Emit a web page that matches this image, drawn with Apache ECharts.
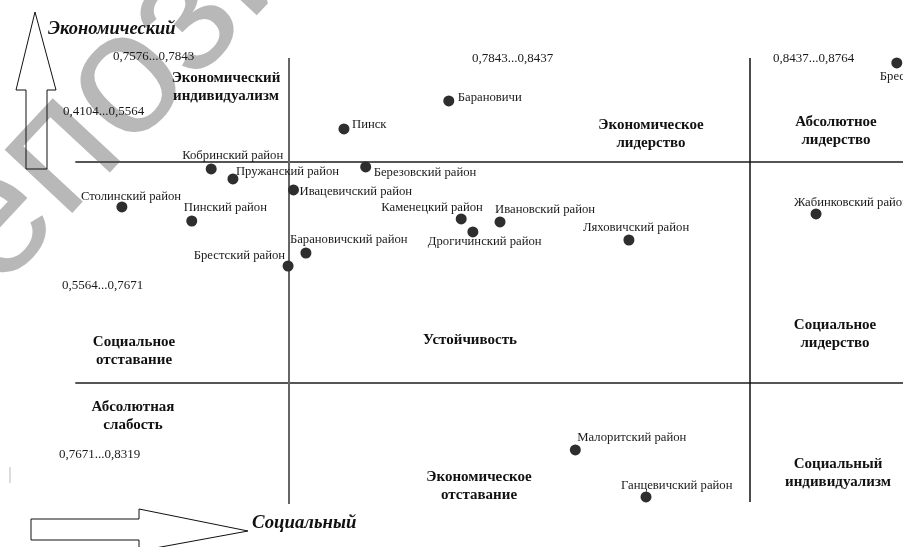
<!DOCTYPE html>
<html><head><meta charset="utf-8">
<script src="https://cdn.jsdelivr.net/npm/echarts@6/dist/echarts.min.js"></script>
<style>html,body{margin:0;padding:0;background:#fff}#c{width:903px;height:547px}</style>
</head><body><div id="c"></div><script>
// ---- data ----
const names = ['Барановичи','Пинск','Брест','Кобринский район','Пружанский район','Столинский район','Пинский район','Ивацевичский район','Барановичский район','Брестский район','Березовский район','Каменецкий район','Ивановский район','Дрогичинский район','Ляховичский район','Жабинковский район','Малоритский район','Ганцевичский район'];
const socialIndex   = [0.8049,0.7914,0.8626,0.7743,0.7771,0.7628,0.7718,0.7849,0.7865,0.7842,0.7942,0.8065,0.8115,0.8080,0.8281,0.8522,0.8212,0.8303];
const economicIndex = [0.4982,0.5249,0.4620,0.5631,0.5726,0.5993,0.6127,0.5831,0.6432,0.6556,0.5612,0.6107,0.6136,0.6231,0.6308,0.6060,0.8310,0.8758];
const socialBounds = [0.7843, 0.8437];
const economicBounds = [0.5564, 0.7671];
const socialRangeLabels = ['0,7576...0,7843','0,7843...0,8437','0,8437...0,8764'];
const economicRangeLabels = ['0,4104...0,5564','0,5564...0,7671','0,7671...0,8319'];
const quadrantNames = ['Экономический\nиндивидуализм','Экономическое\nлидерство','Абсолютное\nлидерство','Социальное\nотставание','Устойчивость','Социальное\nлидерство','Абсолютная\nслабость','Экономическое\nотставание','Социальный\nиндивидуализм'];
const axisTitles = ['Экономический','Социальный'];

// ---- layout (style only) ----
const labelLayout = {
 'Барановичи':[9,-3,'left'],'Пинск':[8,-4,'left'],'Брест':[-17,14,'left'],
 'Кобринский район':[-29,-13,'left'],'Пружанский район':[3,-7,'left'],'Столинский район':[-41,-10,'left'],
 'Пинский район':[-8,-13,'left'],'Ивацевичский район':[6,2,'left'],'Барановичский район':[-16,-13,'left'],
 'Брестский район':[-3,-10,'right'],'Березовский район':[8,6,'left'],'Каменецкий район':[-80,-11,'left'],
 'Ивановский район':[-5,-12,'left'],'Дрогичинский район':[-45,10,'left'],'Ляховичский район':[-46,-12,'left'],
 'Жабинковский район':[-22,-11,'left'],'Малоритский район':[2,-12,'left'],'Ганцевичский район':[-25,-11,'left']
};
const SYM = 11;
const serif = 'Liberation Serif';
const points = names.map((n,i)=>{
  const l = labelLayout[n];
  return {name:n, value:[socialIndex[i], economicIndex[i]],
    label:{show:true, formatter:n, position:[SYM/2+l[0], SYM/2+l[1]], align:l[2], verticalAlign:'middle',
      fontFamily:serif, fontSize:12.7, color:'#1a1a1a'}};
});

function txt(x,y,t,opt){
  return {type:'text', x:x, y:y, z:100, style:Object.assign({text:t, fontFamily:serif, fontSize:13, fill:'#1a1a1a', align:'left', verticalAlign:'middle'}, opt||{})};
}
const qPos = [[226,87],[651,134],[836,131],[134,351],[470,340],[835,334],[133,416],[479,486],[838,473]];
const srPos = [[113,57],[472,59],[773,59]];
const erPos = [[63,112],[62,286],[59,455]];
const graphics = [];
graphics.push({type:'text', x:-176, y:280, rotation:47*Math.PI/180, z:-100, silent:true,
  style:{text:'Репозиторий БрГУ', fontFamily:'Liberation Sans', fontSize:175, fill:'#b8b8b8', align:'left', verticalAlign:'alphabetic'}});
quadrantNames.forEach((q,i)=>graphics.push(txt(qPos[i][0], qPos[i][1], q, {fontSize:15, fontWeight:'bold', align:'center', lineHeight:18, fill:'#111'})));
socialRangeLabels.forEach((t,i)=>graphics.push(txt(srPos[i][0], srPos[i][1], t, {fontSize:13})));
economicRangeLabels.forEach((t,i)=>graphics.push(txt(erPos[i][0], erPos[i][1], t, {fontSize:13})));
graphics.push(txt(48, 29, axisTitles[0], {fontSize:18.5, fontWeight:'bold', fontStyle:'italic', fill:'#111'}));
graphics.push(txt(252, 523, axisTitles[1], {fontSize:18.8, fontWeight:'bold', fontStyle:'italic', fill:'#111'}));
graphics.push({type:'polygon', z:50, shape:{points:[[26,169],[26,90],[16,90],[35,12],[56,90],[47,90],[47,169]]}, style:{fill:'none', stroke:'#111', lineWidth:1}});
graphics.push({type:'polygon', z:50, shape:{points:[[31,519],[139,519],[139,509],[248,531],[139,551],[139,540],[31,540]]}, style:{fill:'none', stroke:'#111', lineWidth:1}});
graphics.push({type:'rect', z:50, shape:{x:9, y:467, width:2, height:16}, style:{fill:'#ddd'}});

const chart = echarts.init(document.getElementById('c'), null, {renderer:'canvas'});
chart.setOption({
  animation:false,
  backgroundColor:'#fff',
  grid:{left:0,right:0,top:0,bottom:0},
  xAxis:{type:'value', min:0.7471, max:0.8634, show:false},
  yAxis:{type:'value', min:0.4020, max:0.9235, inverse:true, show:false},
  graphic:graphics,
  series:[
    {type:'scatter', symbolSize:SYM, itemStyle:{color:'#2e2e2e', opacity:1}, data:points, z:5,
     emphasis:{disabled:true},
     markLine:{silent:true, symbol:'none', label:{show:false}, animation:false,
       data:[
         [{coord:[0.7568,economicBounds[0]], lineStyle:{color:'#555',width:2,type:'solid'}},{coord:[0.8634,economicBounds[0]]}],
         [{coord:[0.7568,economicBounds[1]], lineStyle:{color:'#555',width:2,type:'solid'}},{coord:[0.8634,economicBounds[1]]}],
         [{coord:[socialBounds[0],0.4573], lineStyle:{color:'#666',width:2,type:'solid'}},{coord:[socialBounds[0],0.8825]}],
         [{coord:[socialBounds[1],0.4573], lineStyle:{color:'#111',width:1.5,type:'solid'}},{coord:[socialBounds[1],0.8806]}]
       ]
     }
    }
  ]
});
</script></body></html>
